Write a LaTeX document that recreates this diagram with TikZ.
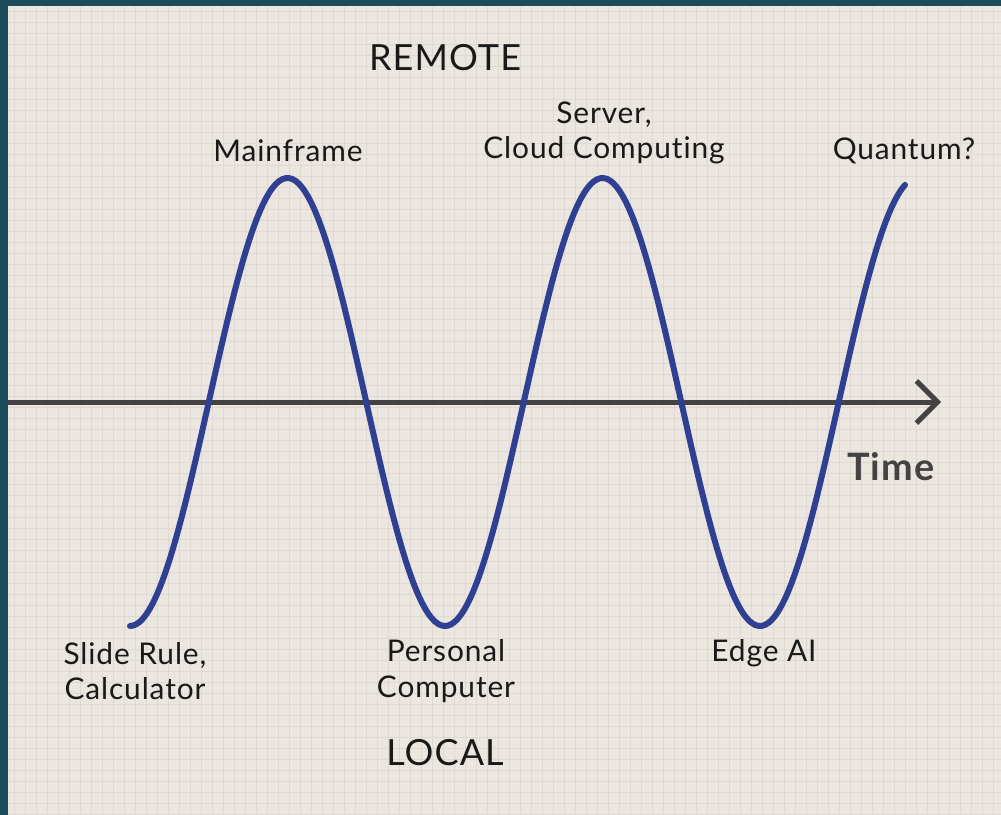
\documentclass[tikz,border=0pt]{standalone}
\usepackage{fontspec}
\setmainfont{Lato}[LetterSpace=3.0, Ligatures=NoCommon]
\usetikzlibrary{arrows.meta}

\definecolor{paper}{HTML}{EBE6E0}
\definecolor{gridline}{HTML}{E0D9D2}
\definecolor{frame}{HTML}{1C4B59}
\definecolor{wave}{HTML}{2F3F91}
\definecolor{axis}{HTML}{444242}

\begin{document}
\begin{tikzpicture}[x=0.02cm, y=-0.02cm,
                    label/.style={text=black!90, align=center, inner sep=0pt,
                                  font=\fontsize{17}{20}\selectfont},
                    pole/.style={label, font=\fontsize{20.5}{22}\selectfont},
                    wavy/.style={wave, line width=0.12cm, line cap=round}]
    \useasboundingbox (0,0) rectangle (1001,815);
    % paper with grid
    \fill[frame] (0,0) rectangle (1001,815);
    \fill[paper] (8,6) rectangle (1001,815);
    \foreach \gx in {14,25,...,1001}
        \draw[gridline, line width=0.55pt] (\gx,6) -- (\gx,815);
    \foreach \gy in {11,22,...,815}
        \draw[gridline, line width=0.55pt] (8,\gy) -- (1001,\gy);

    % time axis
    \coordinate (axisstart) at (8,402);
    \coordinate (axisend) at (941,402);
    \draw[axis, line width=0.1cm, -{Straight Barb[length=0.42cm, width=0.84cm, line width=0.1cm]}] (axisstart) -- (axisend);
    \node[text=axis, inner sep=0pt, font=\fontsize{21.5}{22}\selectfont\bfseries] (time) at (891,467) {Time};

    % the swing between remote and local
    \draw[wavy] plot[domain=130:905, samples=240] (\x, {402 + 224*cos(1.142857*(\x-130))});

    \node[pole] (remote) at (445,58) {REMOTE};
    \node[pole] (local) at (445,753) {LOCAL};

    \node[label] (mainframe) at (288,151) {Mainframe};
    \node[label] (cloud) at (604,133) {Server,\\Cloud Computing};
    \node[label] (quantum) at (904,151) {Quantum?};
    \node[label] (slide) at (135,671) {Slide Rule,\\Calculator};
    \node[label] (pc) at (446,671) {Personal\\Computer};
    \node[label] (edge) at (764,653) {Edge AI};
\end{tikzpicture}
\end{document}
